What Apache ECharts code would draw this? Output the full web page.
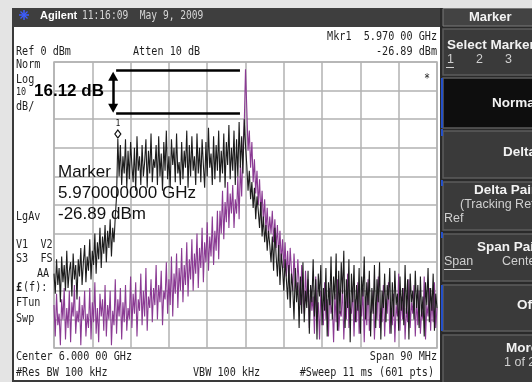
<!DOCTYPE html>
<html><head><meta charset="utf-8">
<script src="https://cdn.jsdelivr.net/npm/echarts@6/dist/echarts.min.js"></script>
<style>html,body{margin:0;padding:0;background:#ffffff}#c{width:532px;height:382px}</style>
</head><body><div id="c"></div>
<script>
// Sweep grid: offset from the 6.000 00 GHz center, span 90 MHz
const SWEEP_START_MHZ = -45;
const SWEEP_STEP_MHZ = 0.3;

// Trace 1 (black), dBm
const blackDbm = [
  -74,-81,-69,-78,-72,-84,-68,-77,-71,-80,
  -66,-79,-73,-70,-82,-67,-76,-71,-83,-69,
  -75,-65,-78,-70,-64,-77,-68,-73,-62,-76,
  -66,-71,-60,-74,-63,-69,-58,-72,-61,-67,
  -57,-70,-59,-65,-55,-68,-58,-63,-54,-47,
  -26.89,-40,-29,-43,-33,-39,-27,-44,-31,-41,
  -28,-36,-42,-30,-45,-26,-38,-33,-43,-29,
  -40,-35,-27,-44,-31,-39,-25,-42,-34,-37,
  -29,-43,-26,-40,-32,-45,-28,-38,-24,-41,
  -33,-44,-27,-36,-30,-42,-25,-39,-35,-43,
  -28,-41,-31,-37,-24,-44,-29,-40,-26,-38,
  -33,-43,-25,-39,-30,-42,-27,-36,-44,-28,
  -40,-23,-37,-32,-43,-26,-41,-29,-38,-24,
  -42,-31,-39,-25,-44,-28,-36,-22,-41,-30,
  -38,-24,-43,-27,-40,-21,-37,-26,-39,-20,
  -29,-36,-45,-38,-48,-42,-51,-44,-55,-47,
  -52,-58,-49,-61,-54,-63,-57,-66,-59,-64,
  -70,-61,-73,-58,-68,-75,-64,-78,-67,-72,
  -80,-69,-76,-83,-71,-86,-74,-79,-90,-72,
  -84,-77,-93,-75,-88,-70,-91,-80,-86,-73,
  -95,-78,-84,-69,-89,-76,-97,-74,-82,-71,
  -92,-79,-87,-72,-96,-77,-85,-68,-90,-75,
  -83,-67,-94,-73,-88,-70,-81,-66,-93,-76,
  -86,-69,-98,-74,-84,-71,-91,-78,-87,-72,
  -95,-75,-82,-68,-90,-77,-85,-73,-96,-79,
  -88,-71,-93,-76,-84,-70,-97,-80,-86,-74,
  -91,-78,-83,-72,-95,-77,-89,-73,-85,-81,
  -94,-75,-87,-79,-92,-71,-88,-76,-97,-74,
  -84,-80,-90,-73,-86,-78,-93,-75,-89,-82,
  -96,-77,-85,-72,-91,-79,-87,-74,-94,-81,
  -86
];

// Trace 2 (purple), dBm
const purpleDbm = [
  -85,-96,-81,-92,-88,-99,-83,-90,-79,-97,
  -86,-93,-80,-98,-84,-89,-78,-95,-87,-91,
  -82,-99,-85,-90,-80,-96,-88,-93,-79,-97,
  -84,-91,-77,-95,-86,-98,-81,-89,-83,-94,
  -78,-96,-85,-90,-80,-99,-87,-92,-76,-95,
  -83,-89,-79,-97,-84,-91,-78,-94,-86,-90,
  -75,-93,-81,-88,-77,-96,-83,-87,-74,-92,
  -80,-89,-72,-94,-82,-86,-76,-91,-79,-85,
  -71,-90,-78,-84,-73,-92,-80,-83,-70,-88,
  -76,-85,-68,-89,-74,-81,-67,-86,-72,-80,
  -65,-84,-71,-78,-63,-82,-69,-76,-62,-80,
  -67,-74,-60,-79,-65,-72,-58,-77,-63,-70,
  -56,-73,-61,-68,-54,-71,-59,-66,-52,-69,
  -52,-60,-45,-62,-49,-56,-42,-58,-46,-53,
  -43,-58,-48,-53,-40,-55,-36,-47,-30,-22,
  -2.5,-16,-31,-24,-37,-28,-42,-34,-46,-38,
  -50,-41,-53,-45,-56,-48,-59,-51,-61,-54,
  -60,-52,-63,-55,-65,-57,-68,-59,-70,-62,
  -72,-63,-75,-66,-77,-65,-73,-80,-67,-76,
  -80,-69,-78,-85,-71,-82,-88,-73,-84,-76,
  -93,-78,-87,-82,-95,-75,-89,-84,-97,-80,
  -86,-92,-77,-90,-83,-96,-79,-88,-85,-98,
  -81,-91,-76,-94,-87,-89,-78,-97,-84,-90,
  -74,-93,-86,-88,-80,-96,-83,-91,-77,-95,
  -85,-89,-79,-98,-82,-92,-76,-94,-88,-87,
  -80,-97,-84,-90,-75,-93,-86,-91,-78,-96,
  -83,-88,-77,-95,-87,-92,-81,-98,-85,-89,
  -74,-94,-82,-90,-79,-97,-86,-91,-76,-93,
  -84,-88,-78,-96,-83,-92,-80,-95,-87,-90,
  -75,-97,-85,-89,-79,-94,-82,-91,-77,-93,
  -86
];

const MARKER_MHZ = -30;       // 5.970 GHz
const MARKER_DBM = -26.89;
// delta annotation (user drawn)
const ANNOT_X_MHZ = [-30.4, -1.3];
const ANNOT_DB = [-3.0, -17.8];
const ARROW_X_MHZ = -31.1;
const ARROW_DB = [-5.0, -16.2];

const toPts = arr => arr.map((v, i) => [SWEEP_START_MHZ + i * SWEEP_STEP_MHZ, v]);

const MONO = '"DejaVu Sans Mono", monospace';
const SQ = 0.845;
function t(text, x, y, o) {
  o = o || {};
  const align = o.align || 'left';
  return {
    type: 'text', x: x, y: y, z: 100, silent: true,
    scaleX: o.scaleX !== undefined ? o.scaleX : SQ,
    style: {
      text: text, fill: o.fill || '#1e1e1e',
      font: o.font || ('12px ' + MONO),
      textAlign: align, align: align,
      textVerticalAlign: 'middle', verticalAlign: 'middle'
    }
  };
}
function rect(x, y, w, h, fill, o) {
  o = o || {};
  return { type: 'rect', z: o.z || 50, silent: true, shape: { x: x, y: y, width: w, height: h },
    style: { fill: fill, stroke: o.stroke || null, lineWidth: o.lw || 0 } };
}
function line(x1, y1, x2, y2, color, w) {
  return { type: 'line', z: 60, silent: true, shape: { x1: x1, y1: y1, x2: x2, y2: y2 },
    style: { stroke: color, lineWidth: w } };
}
const BTN = 'bold 13.5px "Liberation Sans", Arial, sans-serif';
const BTNR = '12.5px "Liberation Sans", Arial, sans-serif';
const BIG = '17px "Liberation Sans", Arial, sans-serif';

const graphics = [
  // bezel
  rect(0, 0, 532, 8, '#e4e4e4'),
  rect(0, 0, 12, 382, '#e4e4e4'),
  rect(12, 8, 2, 374, '#3a3a3a'),
  rect(12, 380, 430, 2, '#3a3a3a'),
  // title bar
  rect(12, 8, 428, 19, '#3e3e3e'),
  // right panel
  rect(440, 8, 92, 374, '#2a2a2a'),
  rect(443, 8.5, 90, 17.5, '#434343', { stroke: '#7a7a7a', lw: 1 }),
  rect(443, 29, 90, 46, '#3a3a3a', { stroke: '#5c5c5c', lw: 1.5 }),
  rect(443, 78, 90, 50, '#0e0e0e', { stroke: '#5c5c5c', lw: 1.5 }),
  rect(443, 131, 90, 47, '#3a3a3a', { stroke: '#5c5c5c', lw: 1.5 }),
  rect(443, 182, 90, 48, '#3a3a3a', { stroke: '#5c5c5c', lw: 1.5 }),
  rect(443, 234, 90, 47, '#3a3a3a', { stroke: '#5c5c5c', lw: 1.5 }),
  rect(443, 285, 90, 46, '#3a3a3a', { stroke: '#5c5c5c', lw: 1.5 }),
  rect(443, 335, 90, 48, '#3a3a3a', { stroke: '#5c5c5c', lw: 1.5 }),
  line(442, 78, 442, 128, '#2450c8', 2),
  line(442, 285, 442, 331, '#2450c8', 2),
  line(442, 129, 442, 136, '#2450c8', 2),
  line(442, 180, 442, 186, '#2450c8', 2),
  line(442, 232, 442, 238, '#2450c8', 2),
  // logo
  line(19, 15, 29, 15, '#3d5cff', 1.5),
  line(24, 10, 24, 20, '#3d5cff', 1.5),
  line(20.5, 11.5, 27.5, 18.5, '#3d5cff', 1.2),
  line(27.5, 11.5, 20.5, 18.5, '#3d5cff', 1.2),
  t('Agilent', 40, 15.5, { scaleX: 1, fill: '#ffffff', font: 'bold 11px "Liberation Sans", Arial, sans-serif' }),
  t('11:16:09  May 9, 2009', 82, 15.5, { fill: '#d6d6d6', scaleX: 0.8 }),
  // panel texts
  t('Marker', 469, 17, { scaleX: 1, fill: '#f2f2f2', font: 'bold 13px "Liberation Sans", Arial, sans-serif' }),
  t('Select Marker', 447, 45, { scaleX: 1, fill: '#f2f2f2', font: BTN }),
  t('1', 447, 60, { scaleX: 1, fill: '#d0d0d0', font: BTNR }),
  t('2', 476, 60, { scaleX: 1, fill: '#d0d0d0', font: BTNR }),
  t('3', 505, 60, { scaleX: 1, fill: '#d0d0d0', font: BTNR }),
  line(446, 67.5, 454, 67.5, '#d0d0d0', 1),
  t('Normal', 492, 103, { scaleX: 1, fill: '#f2f2f2', font: BTN }),
  t('Delta', 503, 152, { scaleX: 1, fill: '#f2f2f2', font: BTN }),
  t('Delta Pair', 474, 190, { scaleX: 1, fill: '#f2f2f2', font: BTN }),
  t('(Tracking Ref)', 460, 205, { scaleX: 1, fill: '#d0d0d0', font: BTNR }),
  t('Ref', 444, 219, { scaleX: 1, fill: '#d0d0d0', font: BTNR }),
  t('Span Pair', 477, 247, { scaleX: 1, fill: '#f2f2f2', font: BTN }),
  t('Span', 444, 262, { scaleX: 1, fill: '#d0d0d0', font: BTNR }),
  line(444, 269.5, 471, 269.5, '#d0d0d0', 1),
  t('Center', 502, 262, { scaleX: 1, fill: '#d0d0d0', font: BTNR }),
  t('Off', 517, 305, { scaleX: 1, fill: '#f2f2f2', font: BTN }),
  t('More', 506, 348, { scaleX: 1, fill: '#f2f2f2', font: BTN }),
  t('1 of 2', 504, 363, { scaleX: 1, fill: '#d0d0d0', font: BTNR }),
  // screen annotations
  t('Ref 0 dBm', 16, 52),
  t('Atten 10 dB', 133, 52),
  t('Mkr1  5.970 00 GHz', 437, 37, { align: 'right' }),
  t('-26.89 dBm', 437, 52, { align: 'right' }),
  t('Norm', 16, 65),
  t('Log', 16, 80),
  t('10', 16, 92, { font: '10px ' + MONO }),
  t('dB/', 16, 107),
  t('*', 424, 79),
  t('LgAv', 16, 217),
  t('V1  V2', 16, 245),
  t('S3  FS', 16, 259),
  t('AA', 37, 274),
  t('£', 16, 288, { font: 'bold 12px ' + MONO }),
  t('(f):', 23, 288),
  t('FTun', 16, 303),
  t('Swp', 16, 319),
  t('Center 6.000 00 GHz', 16, 357),
  t('#Res BW 100 kHz', 16, 372.5),
  t('VBW 100 kHz', 193, 372.5),
  t('Span 90 MHz', 437, 357, { align: 'right' }),
  t('#Sweep 11 ms (601 pts)', 434, 372.5, { align: 'right' }),
  t('16.12 dB', 34, 91, { scaleX: 1, fill: '#000', font: 'bold 17px "Liberation Sans", Arial, sans-serif' }),
  t('Marker', 58, 172, { scaleX: 1, fill: '#111', font: BIG }),
  t('5.970000000 GHz', 58, 193, { scaleX: 1, fill: '#111', font: BIG }),
  t('-26.89 dBm', 58, 214, { scaleX: 1, fill: '#111', font: BIG })
];

const chart = echarts.init(document.getElementById('c'), null, { renderer: 'canvas' });
const gridLine = { show: true, lineStyle: { color: '#b2b2b2', width: 1.5 } };
chart.setOption({
  animation: false,
  backgroundColor: '#ffffff',
  grid: { left: 54, top: 62, width: 383, height: 286, show: true, borderColor: '#b2b2b2', borderWidth: 1.5, backgroundColor: 'transparent' },
  xAxis: { type: 'value', min: -45, max: 45, interval: 9, axisLabel: { show: false }, axisTick: { show: false }, axisLine: { show: false }, splitLine: gridLine },
  yAxis: { type: 'value', min: -100, max: 0, interval: 10, axisLabel: { show: false }, axisTick: { show: false }, axisLine: { show: false }, splitLine: gridLine },
  graphic: { elements: graphics },
  series: [
    {
      type: 'line', name: 'Trace 2', data: toPts(purpleDbm), showSymbol: false, silent: true,
      lineStyle: { color: '#8a3a93', width: 1.1 }, z: 3
    },
    {
      type: 'line', name: 'Trace 1', data: toPts(blackDbm), showSymbol: false, silent: true,
      lineStyle: { color: '#1c1c1c', width: 1.1 }, z: 4,
      markPoint: {
        silent: true,
        data: [{ coord: [MARKER_MHZ, MARKER_DBM], symbol: 'diamond', symbolSize: [6, 8], symbolOffset: [0, -5],
          itemStyle: { color: '#ffffff', borderColor: '#111', borderWidth: 1.2 },
          label: { show: true, position: 'top', distance: 1, formatter: '1', fontSize: 8, color: '#111', fontFamily: 'DejaVu Sans Mono' } }]
      },
      markLine: {
        silent: true, symbol: 'none', animation: false,
        label: { show: false },
        lineStyle: { color: '#000', width: 2.5, type: 'solid' },
        emphasis: { disabled: true },
        data: [
          [{ coord: [ANNOT_X_MHZ[0], ANNOT_DB[0]] }, { coord: [ANNOT_X_MHZ[1], ANNOT_DB[0]] }],
          [{ coord: [ANNOT_X_MHZ[0], ANNOT_DB[1]] }, { coord: [ANNOT_X_MHZ[1], ANNOT_DB[1]] }],
          [{ coord: [ARROW_X_MHZ, ARROW_DB[0]], symbol: 'triangle', symbolSize: [10, 9] },
           { coord: [ARROW_X_MHZ, ARROW_DB[1]], symbol: 'triangle', symbolSize: [10, 9] }]
        ]
      }
    }
  ]
});
</script></body></html>
